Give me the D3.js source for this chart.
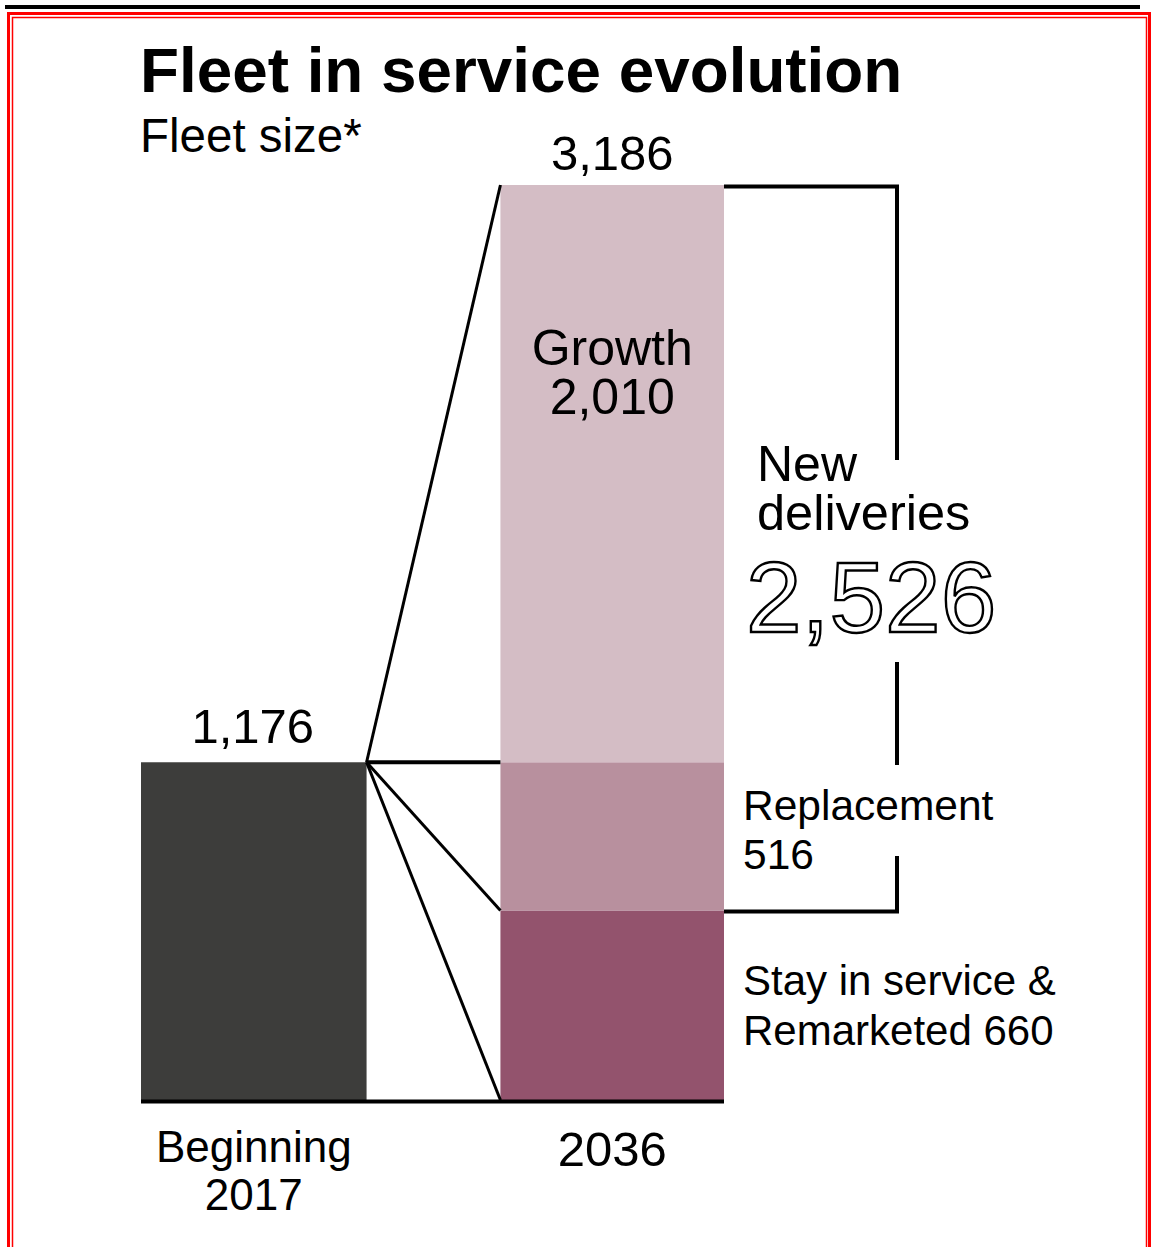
<!DOCTYPE html>
<html>
<head>
<meta charset="utf-8">
<script src="https://cdn.jsdelivr.net/npm/d3@7"></script>
<style>
  body { margin: 0; background: #fff; }
  text { font-family: "Liberation Sans", Arial, Helvetica, sans-serif; fill: #000; }
</style>
</head>
<body>
<div id="chart"></div>
<script>
// data
const categories = ["Beginning 2017", "2036"];
const startFleet = 1176;
const segmentNames = ["Stay in service & Remarketed", "Replacement", "Growth"];
const segmentValues = [660, 516, 2010];
const newDeliveries = 2526;
const totalFleet = 3186;

const segmentColors = ["#93536d", "#b8909e", "#d4bdc5"];

const width = 1151, height = 1247;

const svg = d3.select("#chart").append("svg")
    .attr("width", width)
    .attr("height", height);

// frame
svg.append("rect").attr("x", 5).attr("y", 5).attr("width", 1135).attr("height", 4).attr("fill", "#000");
svg.append("rect").attr("x", 8.5).attr("y", 13.5).attr("width", 1141).attr("height", 1260)
    .attr("fill", "none").attr("stroke", "#ff0000").attr("stroke-width", 3);
svg.append("rect").attr("x", 12.5).attr("y", 17.5).attr("width", 1134).attr("height", 1260)
    .attr("fill", "none").attr("stroke", "#ff0000").attr("stroke-width", 1.5);

// scales
let x = d3.scaleBand()
    .domain(categories)
    .range([141, 724])
    .paddingInner(0.378)
    .paddingOuter(0);

let y = d3.scaleLinear()
    .domain([0, totalFleet])
    .range([1100, 185]);

// stack the 2036 bar
let stacked = [];
let acc = 0;
segmentValues.forEach((v, i) => {
    stacked.push({name: segmentNames[i], y0: acc, y1: acc + v, color: segmentColors[i]});
    acc += v;
});

let x0 = x(categories[0]), x1 = x(categories[1]), bw = x.bandwidth();

// left bar (drawn a little wider, as in the original)
svg.append("rect")
    .attr("x", x0)
    .attr("y", y(startFleet))
    .attr("width", bw + 2)
    .attr("height", y(0) - y(startFleet))
    .attr("fill", "#3d3d3b");

// right stacked bar
svg.selectAll(".seg")
    .data(stacked)
    .enter()
    .append("rect")
    .attr("class", "seg")
    .attr("x", x1)
    .attr("y", d => y(d.y1))
    .attr("width", bw)
    .attr("height", d => y(d.y0) - y(d.y1))
    .attr("fill", d => d.color);

// connector lines from top-right corner of left bar
let fx = x0 + bw + 2, fy = y(startFleet);
let targets = [totalFleet, stacked[1].y1, stacked[0].y1, 0];
svg.selectAll(".conn")
    .data(targets)
    .enter()
    .append("line")
    .attr("class", "conn")
    .attr("x1", fx).attr("y1", fy)
    .attr("x2", x1).attr("y2", d => y(d))
    .attr("stroke", "#000")
    .attr("stroke-width", (d, i) => i === 1 ? 4 : 3);

// baseline
svg.append("line")
    .attr("x1", x0).attr("x2", x1 + bw)
    .attr("y1", y(0) + 1.5).attr("y2", y(0) + 1.5)
    .attr("stroke", "#000").attr("stroke-width", 4);

// new deliveries bracket
let bx = 897;
let bTop = y(totalFleet) + 1.5, bBot = y(stacked[0].y1) + 1;
let bracket = svg.append("g").attr("stroke", "#000").attr("stroke-width", 4).attr("fill", "none");
bracket.append("path").attr("d", `M${x1 + bw},${bTop} H${bx} V460`);
bracket.append("line").attr("x1", bx).attr("x2", bx).attr("y1", 662).attr("y2", 765);
bracket.append("path").attr("d", `M${bx},856 V${bBot} H${x1 + bw}`);

// texts
const fmt = d3.format(",");
function label(t, xx, yy, size, anchor, weight) {
    return svg.append("text")
        .attr("x", xx).attr("y", yy)
        .attr("font-size", size)
        .attr("text-anchor", anchor || "start")
        .attr("font-weight", weight || "normal")
        .text(t);
}

label("Fleet in service evolution", 140, 92, 63.8, "start", "bold");
label("Fleet size*", 140, 152, 47.5);

label(fmt(totalFleet), x1 + bw / 2, 170, 49, "middle");
label(fmt(startFleet), x0 + bw / 2, 743, 49, "middle");

label("Growth", x1 + bw / 2, 365, 50, "middle");
label(fmt(segmentValues[2]), x1 + bw / 2, 414, 50, "middle");

label("New", 757, 481, 50);
label("deliveries", 757, 530, 50.5);
svg.append("text")
    .attr("x", 746).attr("y", 632)
    .attr("font-size", 100)
    .style("fill", "#fff")
    .attr("stroke", "#000")
    .attr("stroke-width", 2.4)
    .text(fmt(newDeliveries));

label("Replacement", 743, 820, 42.5);
label(segmentValues[1], 743, 869, 42.5);

label("Stay in service &", 743, 995, 42);
label("Remarketed " + segmentValues[0], 743, 1045, 42);

label("Beginning", x0 + bw / 2 + 1, 1162, 44, "middle");
label("2017", x0 + bw / 2 + 1, 1210, 44, "middle");
label("2036", x1 + bw / 2, 1166, 49, "middle");
</script>
</body>
</html>
